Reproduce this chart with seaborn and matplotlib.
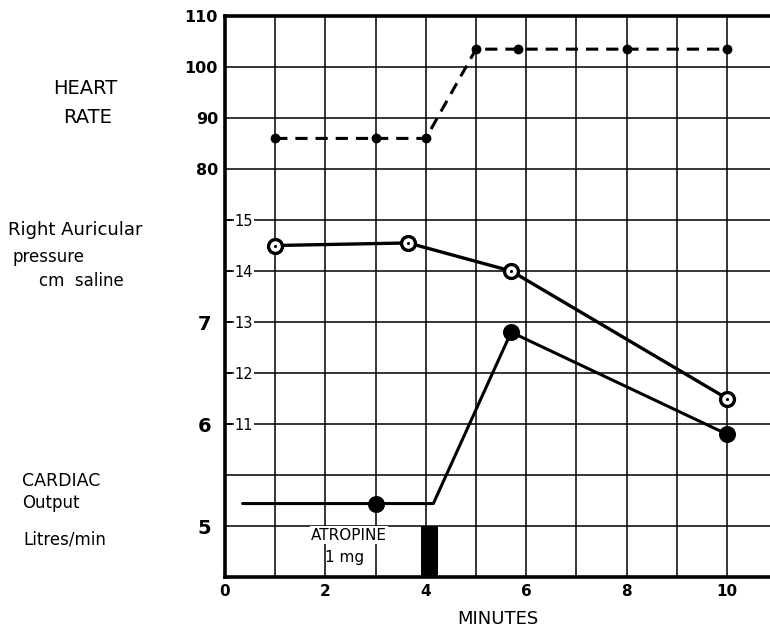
import matplotlib
matplotlib.use("Agg")
import matplotlib.pyplot as plt
import seaborn as sns

# ---------------- data ----------------
hr_minutes = [1, 3, 4, 5, 5.83, 8, 10]
hr_values = [86, 86, 86, 103.5, 103.5, 103.5, 103.5]

rap_minutes = [1, 3.65, 5.7, 10]
rap_values = [14.5, 14.55, 14.0, 11.5]

co_line_minutes = [0.35, 3, 4.15, 5.7, 10]
co_line_values = [5.22, 5.22, 5.22, 6.9, 5.9]
co_point_minutes = [3, 5.7, 10]
co_point_values = [5.22, 6.9, 5.9]

atropine_minute = [4.07]
atropine_dose_bar = [0.5]

minute_ticks = [0, 2, 4, 6, 8, 10]
hr_ticks = [80, 90, 100, 110]
rap_ticks = [11, 12, 13, 14, 15]
co_ticks = [5, 6, 7]

# ---------------- style ----------------
sns.set_style("white")
plt.rcParams["font.family"] = ["DejaVu Sans"]
plt.rcParams["text.color"] = "black"
plt.rcParams["axes.labelcolor"] = "black"
plt.rcParams["xtick.color"] = "black"
plt.rcParams["ytick.color"] = "black"
plt.rcParams["patch.edgecolor"] = "black"

W, H = 770, 629
fig = plt.figure(figsize=(W / 100, H / 100), dpi=100)


def fx(px):
    return px / W


def fy(py):
    return 1 - py / H


left_px, right_px, top_px, bottom_px = 225, 770, 16, 577
ax = fig.add_axes([fx(left_px), fy(bottom_px), fx(right_px - left_px),
                   (bottom_px - top_px) / H])
ax_rap = ax.twinx()
ax_co = ax.twinx()

xmax = (right_px - left_px) / 50.2

# ---------------- heart rate axis (also carries the grid) ----------------
ax.set_xlim(0, xmax)
ax.set_ylim(0, 110)
ax.set_xticks(minute_ticks)
ax.set_xticks([m for m in range(1, 11) if m not in minute_ticks], minor=True)
ax.set_xticklabels([str(t) for t in minute_ticks], fontsize=11, fontweight="bold")
grid_rows = list(range(0, 111, 10))
ax.set_yticks(grid_rows)
ax.set_yticklabels([str(v) if v in hr_ticks else "" for v in grid_rows],
                   fontsize=11.5, fontweight="bold")
ax.tick_params(axis="both", which="both", length=0)
ax.tick_params(axis="y", pad=5)
ax.tick_params(axis="x", pad=5)
ax.grid(True, which="both", color="black", linewidth=1.1)
ax.set_axisbelow(True)
for side in ["left", "top", "bottom"]:
    ax.spines[side].set_visible(True)
    ax.spines[side].set_color("black")
    ax.spines[side].set_linewidth(2.6)
ax.spines["right"].set_visible(False)
ax.set_xlabel("MINUTES", fontsize=13, labelpad=8)

sns.lineplot(x=hr_minutes, y=hr_values, ax=ax, color="black", linewidth=2.2,
             linestyle=(0, (4, 2.6)), sort=False, estimator=None)
sns.scatterplot(x=hr_minutes, y=hr_values, ax=ax, color="black", s=50,
                linewidth=0, zorder=5)
ax.set_xlim(0, xmax)
ax.set_ylim(0, 110)

# ---------------- right auricular pressure axis ----------------
sns.lineplot(x=rap_minutes, y=rap_values, ax=ax_rap, color="black",
             linewidth=2.4, sort=False, estimator=None)
sns.scatterplot(x=rap_minutes, y=rap_values, ax=ax_rap, s=100, color="white",
                edgecolor="black", linewidth=2.4, zorder=5)
sns.scatterplot(x=rap_minutes, y=rap_values, ax=ax_rap, s=5, color="black",
                linewidth=0, zorder=6)
ax_rap.set_ylim(8, 19)
ax_rap.yaxis.tick_left()
ax_rap.set_yticks(rap_ticks)
ax_rap.set_yticklabels([str(t) for t in rap_ticks], fontsize=10.5)
ax_rap.tick_params(axis="y", direction="in", length=5, width=1.2, pad=-7,
                   left=True, right=False, labelleft=True, labelright=False)
for t in ax_rap.get_yticklabels():
    t.set_horizontalalignment("left")
    t.set_bbox(dict(facecolor="white", edgecolor="none", pad=0.5))
ax_rap.set_ylabel("")

# ---------------- cardiac output axis ----------------
sns.lineplot(x=co_line_minutes, y=co_line_values, ax=ax_co, color="black",
             linewidth=2.2, sort=False, estimator=None)
sns.scatterplot(x=co_point_minutes, y=co_point_values, ax=ax_co, color="black",
                s=150, linewidth=0, zorder=5)
ax_co.bar(atropine_minute, atropine_dose_bar, bottom=4.5, width=0.34,
          color="black", edgecolor="black", linewidth=0, zorder=4)
ax_co.set_ylim(4.5, 10)
ax_co.set_xlim(0, xmax)
ax_co.yaxis.tick_left()
ax_co.set_yticks(co_ticks)
ax_co.set_yticklabels([str(t) for t in co_ticks], fontsize=14, fontweight="bold")
ax_co.tick_params(axis="y", length=0, pad=10, left=True, right=False,
                  labelleft=True, labelright=False)
ax_co.set_ylabel("")
ax_co.text(2.47, 4.91, "ATROPINE", fontsize=11, ha="center", va="center",
           zorder=7, bbox=dict(facecolor="white", edgecolor="none", pad=1.0))
ax_co.text(2.38, 4.69, "1 mg", fontsize=11, ha="center", va="center", zorder=7)

for a in (ax_rap, ax_co):
    for s in a.spines.values():
        s.set_visible(False)

# ---------------- left-hand labels ----------------
fig.text(fx(85), fy(88), "HEART", fontsize=14, ha="center", va="center")
fig.text(fx(88), fy(118), "RATE", fontsize=14, ha="center", va="center")
fig.text(fx(8), fy(230), "Right Auricular", fontsize=13, ha="left", va="center")
fig.text(fx(13), fy(257), "pressure", fontsize=12, ha="left", va="center")
fig.text(fx(39), fy(281), "cm  saline", fontsize=12, ha="left", va="center")
fig.text(fx(22), fy(481), "CARDIAC", fontsize=12.5, ha="left", va="center")
fig.text(fx(22), fy(503), "Output", fontsize=12, ha="left", va="center")
fig.text(fx(23), fy(540), "Litres/min", fontsize=12, ha="left", va="center")

fig.savefig("out.png", dpi=100, facecolor="white")
